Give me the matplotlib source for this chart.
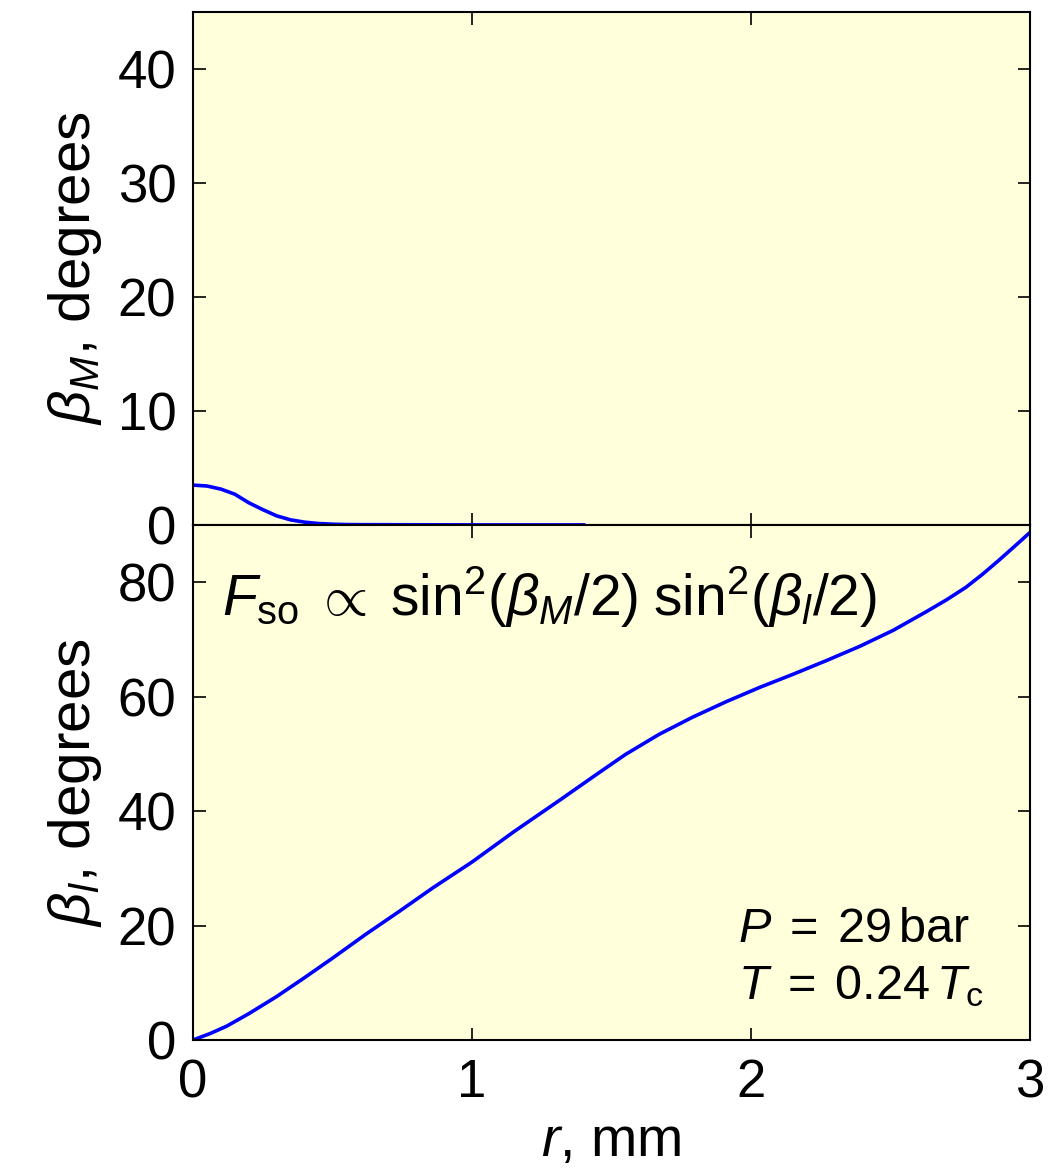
import numpy as np
import matplotlib
matplotlib.use("Agg")
import matplotlib.pyplot as plt
from matplotlib import font_manager

# ---- data ----
r_top = [0.0, 0.05, 0.10, 0.15, 0.20, 0.25, 0.30, 0.35, 0.40, 0.45, 0.50, 0.55, 0.60, 0.80, 1.00, 1.20, 1.40]
beta_M = [3.5, 3.42, 3.15, 2.7, 1.95, 1.35, 0.8, 0.45, 0.25, 0.13, 0.07, 0.04, 0.03, 0.02, 0.01, 0.01, 0.01]

r_bot = [0.0, 0.06, 0.12, 0.20, 0.30, 0.40, 0.50, 0.62, 0.74, 0.86, 1.00, 1.15, 1.32, 1.44, 1.55,
         1.67, 1.79, 1.91, 2.03, 2.15, 2.27, 2.39, 2.51, 2.63, 2.70, 2.77, 2.83, 2.89, 2.95, 3.0]
beta_l = [0.0, 1.1, 2.4, 4.6, 7.6, 10.9, 14.3, 18.5, 22.5, 26.6, 31.1, 36.4, 42.1, 46.2, 49.9,
          53.4, 56.4, 59.1, 61.6, 63.9, 66.3, 68.8, 71.6, 74.9, 76.9, 79.1, 81.4, 83.9, 86.5, 88.7]

xticks = [0, 1, 2, 3]
yticks_top = [0, 10, 20, 30, 40]
yticks_bot = [0, 20, 40, 60, 80]

available = {f.name for f in font_manager.fontManager.ttflist}
narrow = "Liberation Sans Narrow" if "Liberation Sans Narrow" in available else "Liberation Sans"

plt.rcParams['font.family'] = [narrow, 'DejaVu Sans']
plt.rcParams['mathtext.fontset'] = 'custom'
plt.rcParams['mathtext.rm'] = 'Liberation Sans'
plt.rcParams['mathtext.it'] = 'Liberation Sans:italic'
plt.rcParams['mathtext.sf'] = 'Liberation Sans'
plt.rcParams['mathtext.bf'] = 'Liberation Sans:bold'

bg = '#FFFFDC'
blue = '#0000FF'

fig = plt.figure(figsize=(10.48, 11.71), dpi=100)
L, R = 193 / 1048, 1030 / 1048
H = 1171
ax1 = fig.add_axes([L, 1 - 525 / H, R - L, (525 - 12) / H])
ax2 = fig.add_axes([L, 1 - 1040 / H, R - L, (1040 - 525) / H])

for ax in (ax1, ax2):
    ax.set_facecolor(bg)
    ax.set_xlim(0, 3)
    ax.set_xticks(xticks)
    ax.tick_params(direction='in', length=9, width=1.2, top=True, right=True,
                   labelsize=38, colors='black')
    ax.tick_params(axis='y', pad=12)
    ax.tick_params(axis='x', pad=13)
    for s in ax.spines.values():
        s.set_linewidth(1.5)

ax1.plot(r_top, beta_M, color=blue, lw=2.6)
ax1.set_ylim(0, 45)
ax1.set_yticks(yticks_top)
ax1.tick_params(labelbottom=False)
ax1.set_ylabel(r'$\beta_M$, degrees', fontsize=42, labelpad=10)

ax2.plot(r_bot, beta_l, color=blue, lw=2.6)
ax2.set_ylim(0, 90)
ax2.set_yticks(yticks_bot)
ax2.set_ylabel(r'$\beta_l$, degrees', fontsize=42, labelpad=10)
ax2.set_xlabel(r'$r$, mm', fontsize=40, labelpad=6)

ax2.text(0.035, 0.86,
         r'$F_{\mathrm{so}}\;\propto\;\mathrm{sin}^2(\beta_M/2)\;\mathrm{sin}^2(\beta_l/2)$',
         transform=ax2.transAxes, fontsize=41, ha='left', va='center')
ax2.text(0.651, 0.215, r'$P\;=\;29\,\mathrm{bar}$', transform=ax2.transAxes,
         fontsize=35, ha='left', va='center')
ax2.text(0.651, 0.105, r'$T\;=\;0.24\,T_\mathrm{c}$', transform=ax2.transAxes,
         fontsize=35, ha='left', va='center')

fig.savefig('out.png', dpi=100, facecolor='white')
